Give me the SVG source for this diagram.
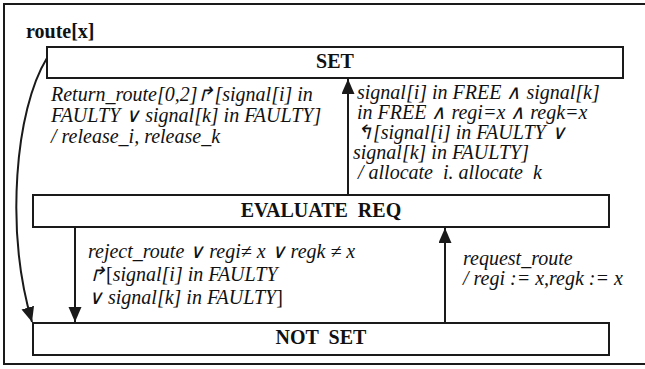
<svg xmlns="http://www.w3.org/2000/svg" width="645" height="369" viewBox="0 0 645 369">
<defs>
<style>
.box{fill:#fff;stroke:#1a1a1a;stroke-width:2}
.conn{fill:none;stroke:#1a1a1a;stroke-width:2}
</style>
<marker id="ah" markerUnits="userSpaceOnUse" markerWidth="16" markerHeight="14" refX="15" refY="6.5" orient="auto">
<path d="M0,0 L15,6.5 L0,13 z" fill="#1a1a1a"/>
</marker>
</defs>
<rect width="645" height="369" fill="#fff"/>
<path d="M648,4 H4 V364 H648" fill="none" stroke="#1a1a1a" stroke-width="2"/>
<text x="26" y="38" font-family="Liberation Serif" font-weight="bold" font-size="20" fill="#111">route[x]</text>

<g id="set" font-family="Liberation Serif" font-weight="bold" font-size="20" fill="#111">
<rect class="box" x="47" y="47" width="576" height="31"/>
<text x="335" y="68" text-anchor="middle">SET</text>
</g>
<g id="evaluate-req" font-family="Liberation Serif" font-weight="bold" font-size="20" fill="#111">
<rect class="box" x="33" y="195" width="576" height="32"/>
<text x="321" y="217" text-anchor="middle" xml:space="preserve">EVALUATE  REQ</text>
</g>
<g id="not-set" font-family="Liberation Serif" font-weight="bold" font-size="20" fill="#111">
<rect class="box" x="33" y="323" width="576" height="32"/>
<text x="321" y="344" text-anchor="middle" xml:space="preserve">NOT  SET</text>
</g>

<g id="connectors">
<path class="conn" d="M47,58 C15,110 5,230 32,322" marker-end="url(#ah)"/>
<line class="conn" x1="75" y1="227" x2="75" y2="322" marker-end="url(#ah)"/>
<line class="conn" x1="445" y1="323" x2="445" y2="228" marker-end="url(#ah)"/>
<line class="conn" x1="348" y1="195" x2="348" y2="79" marker-end="url(#ah)"/>
</g>

<g id="labels" font-family="Liberation Serif" font-style="italic" font-size="20" fill="#111">
<text x="51" y="101">Return_route[0,2]↱[signal[i] in</text>
<text x="51" y="122">FAULTY ∨ signal[k] in FAULTY]</text>
<text x="51" y="143">/ release_i, release_k</text>

<text x="357" y="99">signal[i] in FREE ∧ signal[k]</text>
<text x="357" y="119">in FREE ∧ regi=x ∧ regk=x</text>
<text x="356" y="139">↰[signal[i] in FAULTY ∨</text>
<text x="353" y="159">signal[k] in FAULTY]</text>
<text x="358" y="179" xml:space="preserve">/ allocate  i. allocate  k</text>

<text x="88" y="258">reject_route ∨ regi≠ x ∨ regk ≠ x</text>
<text x="89" y="281">↱<tspan font-style="normal">[</tspan>signal[i] in FAULTY</text>
<text x="88" y="304">∨ signal[k] in FAULTY<tspan font-style="normal">]</tspan></text>

<text x="463" y="265">request_route</text>
<text x="463" y="285">/ regi := x,regk := x</text>
</g>
</svg>
